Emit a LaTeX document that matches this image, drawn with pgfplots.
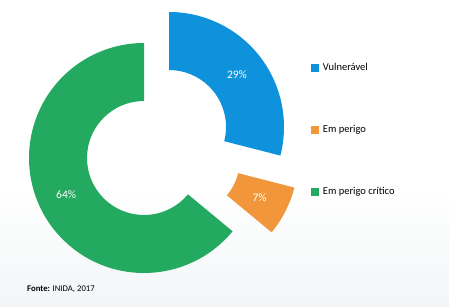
\documentclass[border=0pt]{standalone}
\usepackage{pgfplots}
\pgfplotsset{compat=1.18}
\usepackage{pgfplotstable}
\usetikzlibrary{calc}
\usepackage{fontspec}
\setmainfont{Carlito}
\definecolor{cblue}{RGB}{14,146,219}
\definecolor{corange}{RGB}{241,150,58}
\definecolor{cgreen}{RGB}{36,169,96}
\definecolor{bgtint}{RGB}{242,246,247}

% share (%), centre of the exploded slice (x, y)
\pgfplotstableread{
value cx cy
29 169 179
7  183 147
64 144 148
}\piedata
\pgfplotstablegetelem{0}{value}\of\piedata \let\vA\pgfplotsretval
\pgfplotstablegetelem{1}{value}\of\piedata \let\vB\pgfplotsretval
\pgfplotstablegetelem{2}{value}\of\piedata \let\vC\pgfplotsretval
\pgfplotstablegetelem{0}{cx}\of\piedata \let\xA\pgfplotsretval
\pgfplotstablegetelem{1}{cx}\of\piedata \let\xB\pgfplotsretval
\pgfplotstablegetelem{2}{cx}\of\piedata \let\xC\pgfplotsretval
\pgfplotstablegetelem{0}{cy}\of\piedata \let\yA\pgfplotsretval
\pgfplotstablegetelem{1}{cy}\of\piedata \let\yB\pgfplotsretval
\pgfplotstablegetelem{2}{cy}\of\piedata \let\yC\pgfplotsretval
\pgfmathsetmacro\aO{90}
\pgfmathsetmacro\aA{\aO-3.6*\vA}
\pgfmathsetmacro\aB{\aA-3.6*\vB}
\pgfmathsetmacro\aC{\aB-3.6*\vC}
\pgfmathsetmacro\mA{(\aO+\aA)/2}
\pgfmathsetmacro\mB{(\aA+\aB)/2}
\pgfmathsetmacro\mC{(\aB+\aC)/2}
\def\Rout{115pt}
\def\Rin{57pt}
\def\Rmid{86pt}

\newcommand\sector[5]{%
  \fill[#1] ($(axis cs:#2,#3)+(#4:\Rout)$) arc[start angle=#4, end angle=#5, radius=\Rout]
    -- ($(axis cs:#2,#3)+(#5:\Rin)$) arc[start angle=#5, end angle=#4, radius=\Rin] -- cycle;}

\pgfplotsset{sq/.style={legend image code/.code={\fill[##1] (0pt,-3.4pt) rectangle (6.8pt,3.4pt);}}}

\begin{document}
\begin{tikzpicture}
\begin{axis}[
  width=449pt, height=306pt, scale only axis,
  xmin=0, xmax=449, ymin=0, ymax=306,
  axis lines=none, clip=false,
  legend style={at={(axis cs:311,244)}, anchor=north west, draw=none, fill=none,
    font=\fontsize{10.5}{12}\selectfont, row sep=50pt, inner sep=0pt,
    nodes={inner sep=1.5pt},
    /tikz/every odd column/.append style={column sep=3pt}},
  legend cell align=left,
]
\fill[bottom color=bgtint, top color=white] (axis cs:0,0) rectangle (axis cs:449,120);
\path (axis cs:0,0) rectangle (axis cs:449,306);
\addlegendimage{sq, cblue}
\addlegendentry{Vulnerável}
\addlegendimage{sq, corange}
\addlegendentry{Em perigo}
\addlegendimage{sq, cgreen}
\addlegendentry{Em perigo crítico}

\sector{cblue}{\xA}{\yA}{\aO}{\aA}
\sector{corange}{\xB}{\yB}{\aA}{\aB}
\sector{cgreen}{\xC}{\yC}{\aB}{\aC}

\node[white, font=\fontsize{11.5}{13}\selectfont] at ($(axis cs:\xA,\yA)+(\mA:\Rmid)$) {\vA\%};
\node[white, font=\fontsize{11.5}{13}\selectfont] at ($(axis cs:\xB,\yB)+(\mB:\Rmid)$) {\vB\%};
\node[white, font=\fontsize{11.5}{13}\selectfont] at ($(axis cs:\xC,\yC)+(\mC:\Rmid)$) {\vC\%};

\node[anchor=base west, font=\fontsize{8.7}{10}\selectfont, inner sep=0pt] at (axis cs:27,15) {\textbf{Fonte:} INIDA, 2017};
\end{axis}
\end{tikzpicture}
\end{document}
